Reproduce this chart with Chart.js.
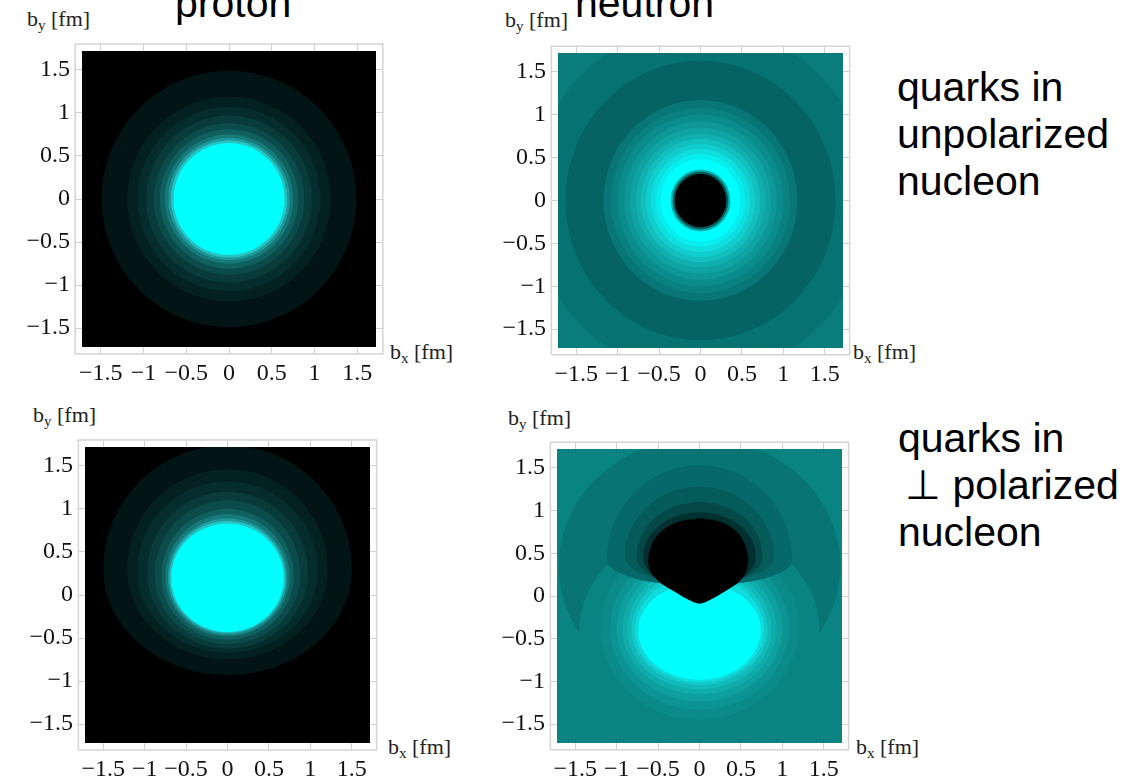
<!DOCTYPE html>
<html>
<head>
<meta charset="utf-8">
<script src="https://cdn.jsdelivr.net/npm/chart.js@4.4.1/dist/chart.umd.min.js"></script>
<style>
  body { margin: 0; width: 1130px; height: 784px; overflow: hidden; background: #fff; position: relative; }
  canvas { position: absolute; }
  .big { position: absolute; font-family: 'Liberation Sans', Arial, sans-serif; font-size: 41px; line-height: 47px; color: #000; white-space: nowrap; }
  .ax { position: absolute; font-family: 'Liberation Serif', serif; font-size: 22px; line-height: 22px; color: #222; white-space: nowrap; }
  .ax sub { font-size: 15px; vertical-align: -4px; line-height: 0; }
</style>
</head>
<body>
<div class="big" style="left:175px; top:-20px;">proton</div>
<div class="big" style="left:575px; top:-20px;">neutron</div>
<div class="big" style="left:897px; top:64px;">quarks in<br>unpolarized<br>nucleon</div>
<div class="big" style="left:898px; top:415px;">quarks in<br><span style="padding-left:7px">⊥ polarized</span><br>nucleon</div>

<div class="ax" style="left:27px; top:8px;">b<sub>y</sub> [fm]</div>
<div class="ax" style="left:505px; top:9px;">b<sub>y</sub> [fm]</div>
<div class="ax" style="left:33px; top:404px;">b<sub>y</sub> [fm]</div>
<div class="ax" style="left:508px; top:407px;">b<sub>y</sub> [fm]</div>
<div class="ax" style="left:390px; top:341px;">b<sub>x</sub> [fm]</div>
<div class="ax" style="left:853px; top:341px;">b<sub>x</sub> [fm]</div>
<div class="ax" style="left:388px; top:736px;">b<sub>x</sub> [fm]</div>
<div class="ax" style="left:856px; top:736px;">b<sub>x</sub> [fm]</div>

<canvas id="protonUnpol" width="400" height="393" style="left:0px; top:0px;"></canvas>
<canvas id="neutronUnpol" width="391" height="392" style="left:476px; top:2px;"></canvas>
<canvas id="protonPol" width="391" height="393" style="left:3px; top:396px;"></canvas>
<canvas id="neutronPol" width="391" height="391" style="left:475px; top:398px;"></canvas>

<script>
// ticks (fm)
const tickValues = [-1.5, -1, -0.5, 0, 0.5, 1, 1.5];
const tickLabels = ['\u22121.5', '\u22121', '\u22120.5', '0', '0.5', '1', '1.5'];
const plotRange = 1.72;
const frameRange = 1.8;

// proton, unpolarized: circular contours (radius in fm, outer -> inner)
const protonRadii = [1.49, 1.19, 1.07, 0.97, 0.88, 0.81, 0.75, 0.71, 0.68, 0.65];
const protonColors = ['#021414', '#042121', '#062d2d', '#093b3b', '#0c4b4b', '#106060', '#167a7a', '#1e9a9a', '#28c2c2', '#00ffff'];

// neutron, unpolarized
const neutronRadii = [2.05, 1.63, 1.17, 1.08, 1.0, 0.92, 0.85, 0.78, 0.72, 0.66, 0.6, 0.54, 0.48, 0.36, 0.335, 0.31];
const neutronColors = ['#077272', '#056363', '#087676', '#0a8181', '#0b8c8c', '#0d9797', '#0fa3a3', '#11b0b0', '#12bebe', '#12cdcd', '#0edede', '#08eeee', '#00ffff', '#0aaeae', '#055a5a', '#000000'];

// proton, transversely polarized: shifted egg contours
const ppCy = [0.3, 0.3, 0.28, 0.26, 0.24, 0.22, 0.21, 0.2, 0.2, 0.2];
const ppRx = [1.5, 1.21, 1.09, 0.97, 0.88, 0.8, 0.75, 0.72, 0.7, 0.68];
const ppTop = [1.74, 1.46, 1.32, 1.2, 1.1, 1.0, 0.94, 0.89, 0.86, 0.83];
const ppBottom = [-0.93, -0.75, -0.67, -0.62, -0.57, -0.52, -0.48, -0.46, -0.44, -0.43];

// neutron, transversely polarized
const npHorseshoe = { cy: 0.35, rx: 1.7, top: 1.85, bottom: -1.15 };
const npLowCy = [-0.4, -0.35, -0.37, -0.38, -0.39, -0.4, -0.4, -0.4, -0.4];
const npLowRx = [1.45, 1.2, 1.08, 1.0, 0.93, 0.87, 0.82, 0.78, 0.74];
const npLowTop = [0.8, 0.65, 0.55, 0.48, 0.42, 0.36, 0.3, 0.24, 0.15];
const npLowBottom = [-1.8, -1.45, -1.33, -1.23, -1.15, -1.09, -1.04, -1.01, -0.98];
const npLowColors = ['#0a8383', '#0b8a8a', '#0c9494', '#0e9f9f', '#10abab', '#12b9b9', '#13c9c9', '#10dcdc', '#00ffff'];
const npUpCy = [0.42, 0.46, 0.46, 0.46];
const npUpRx = [1.12, 0.9, 0.76, 0.68];
const npUpTop = [1.53, 1.28, 1.1, 0.98];
const npUpBottom = [0.12, 0.15, 0.12, 0.08];
const npUpColors = ['#066868', '#055a5a', '#044848', '#023030'];
const blobX = [0, 0.28, 0.48, 0.58, 0.57, 0.47, 0.3, 0.12, 0, -0.12, -0.3, -0.48, -0.6, -0.61, -0.5, -0.28, 0];
const blobY = [0.91, 0.86, 0.72, 0.5, 0.3, 0.16, 0.05, -0.05, -0.09, -0.05, 0.05, 0.16, 0.3, 0.5, 0.72, 0.86, 0.91];

function egg(cy, rx, top, bottom) {
    const pts = [];
    for (let k = 0; k <= 96; k++) {
        const t = k / 96 * 2 * Math.PI;
        const s = Math.sin(t);
        pts.push({ x: rx * Math.cos(t), y: cy + s * (s >= 0 ? top - cy : cy - bottom) });
    }
    return pts;
}

function rect(r) {
    return [{ x: -r, y: -r }, { x: r, y: -r }, { x: r, y: r }, { x: -r, y: r }, { x: -r, y: -r }];
}

function shapeSet(pts, color, tension) {
    return { data: pts, backgroundColor: color, borderColor: color, borderWidth: 0, pointRadius: 0, fill: 'shape', tension: tension || 0 };
}

function frameSet() {
    return { data: rect(frameRange), borderColor: '#d4d4d4', borderWidth: 1.5, pointRadius: 0, fill: false, clip: false, tension: 0 };
}

function axis(position, size, showLabels) {
    const vertical = position === 'left' || position === 'right';
    return {
        type: 'linear', position: position, min: -plotRange, max: plotRange,
        afterBuildTicks: s => { s.ticks = tickValues.map(v => ({ value: v })); },
        afterFit: s => { if (vertical) s.width = size; else s.height = size; },
        grid: { drawOnChartArea: false, drawTicks: true, tickLength: 7, color: '#cfcfcf' },
        border: { display: false },
        ticks: {
            display: showLabels, autoSkip: false, maxRotation: 0, padding: 5, color: '#111',
            font: { family: 'Liberation Serif', size: 24 },
            callback: v => tickLabels[tickValues.indexOf(v)]
        }
    };
}

function makePanel(id, layers) {
    const datasets = [frameSet()].concat(layers.slice().reverse().map(l => shapeSet(l.pts, l.color, l.tension)));
    return new Chart(document.getElementById(id), {
        type: 'line',
        data: { datasets: datasets },
        options: {
            responsive: false,
            animation: false,
            layout: { padding: { left: 0, top: 44, right: 17, bottom: 4 } },
            plugins: { legend: { display: false }, tooltip: { enabled: false } },
            scales: {
                x: axis('bottom', 42, true),
                x2: axis('top', 7, false),
                y: axis('left', 82, true),
                y2: axis('right', 7, false)
            }
        }
    });
}

// top left: proton, unpolarized
const layersPU = [{ pts: rect(2), color: '#000000' }];
protonRadii.forEach((r, i) => layersPU.push({ pts: egg(0, r, r, -r), color: protonColors[i] }));
makePanel('protonUnpol', layersPU);

// top right: neutron, unpolarized
const layersNU = [{ pts: rect(2), color: '#0b7c7c' }];
neutronRadii.forEach((r, i) => layersNU.push({ pts: egg(0, r, r, -r), color: neutronColors[i] }));
makePanel('neutronUnpol', layersNU);

// bottom left: proton, polarized
const layersPP = [{ pts: rect(2), color: '#000000' }];
ppRx.forEach((rx, i) => layersPP.push({ pts: egg(ppCy[i], rx, ppTop[i], ppBottom[i]), color: protonColors[i] }));
makePanel('protonPol', layersPP);

// bottom right: neutron, polarized
const layersNP = [{ pts: rect(2), color: '#0a8383' }];
layersNP.push({ pts: egg(npHorseshoe.cy, npHorseshoe.rx, npHorseshoe.top, npHorseshoe.bottom), color: '#087474' });
npLowRx.forEach((rx, i) => layersNP.push({ pts: egg(npLowCy[i], rx, npLowTop[i], npLowBottom[i]), color: npLowColors[i] }));
npUpRx.forEach((rx, i) => layersNP.push({ pts: egg(npUpCy[i], rx, npUpTop[i], npUpBottom[i]), color: npUpColors[i] }));
const blob = blobX.map((x, i) => ({ x: x, y: blobY[i] }));
layersNP.push({ pts: blob, color: '#000000', tension: 0.35 });
makePanel('neutronPol', layersNP);
</script>
</body>
</html>
